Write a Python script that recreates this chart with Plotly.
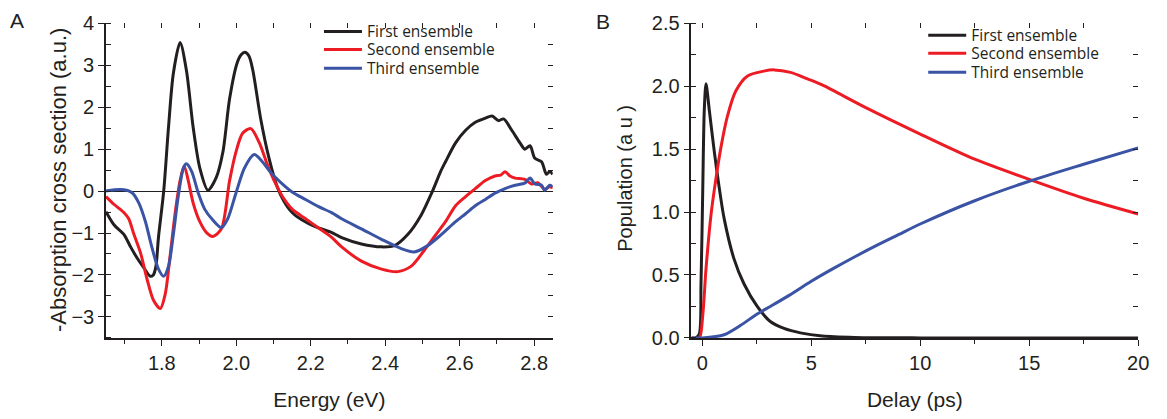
import plotly.graph_objects as go

# ---------------- Panel A data: -absorption cross section vs energy ----------------
energy_first = [1.65, 1.672, 1.698, 1.716, 1.734, 1.751, 1.769, 1.777, 1.784, 1.791, 1.805, 1.818,
                1.831, 1.849, 1.866, 1.884, 1.902, 1.924, 1.946, 1.964, 1.982, 2.002, 2.013, 2.023,
                2.034, 2.044, 2.066, 2.088, 2.110, 2.128, 2.150, 2.177, 2.212, 2.257, 2.283, 2.336,
                2.390, 2.425, 2.461, 2.496, 2.527, 2.549, 2.562, 2.589, 2.616, 2.642, 2.669, 2.687,
                2.704, 2.718, 2.740, 2.762, 2.775, 2.789, 2.802, 2.820, 2.833, 2.842, 2.85]
first_A = [-0.49, -0.81, -1.03, -1.33, -1.60, -1.82, -2.03, -2.00, -1.80, -1.10, 0.0, 1.53,
           2.81, 3.54, 2.88, 1.53, 0.55, 0.02, 0.32, 0.93, 2.20, 3.05, 3.25, 3.31,
           3.22, 2.90, 1.70, 0.78, 0.10, -0.24, -0.51, -0.69, -0.85, -0.99, -1.11, -1.26,
           -1.33, -1.30, -1.03, -0.58, 0.0, 0.47, 0.70, 1.15, 1.45, 1.64, 1.74, 1.79,
           1.68, 1.72, 1.45, 1.15, 1.00, 1.08, 0.78, 0.70, 0.40, 0.47, 0.40]

energy_second = [1.65, 1.672, 1.698, 1.711, 1.725, 1.743, 1.760, 1.778, 1.796, 1.809, 1.822, 1.836,
                 1.849, 1.860, 1.871, 1.884, 1.902, 1.920, 1.937, 1.960, 1.982, 1.999, 2.017, 2.039,
                 2.062, 2.084, 2.106, 2.124, 2.150, 2.186, 2.221, 2.257, 2.283, 2.336, 2.390, 2.434,
                 2.470, 2.505, 2.535, 2.562, 2.589, 2.616, 2.642, 2.669, 2.695, 2.710, 2.722, 2.735,
                 2.749, 2.775, 2.793, 2.810, 2.828, 2.840, 2.85]
second_A = [-0.13, -0.32, -0.51, -0.66, -1.03, -1.48, -2.09, -2.61, -2.80, -2.46, -1.56, -0.51,
            0.25, 0.60, 0.25, -0.28, -0.73, -0.99, -1.08, -0.90, 0.25, 0.93, 1.38, 1.49,
            1.15, 0.62, 0.17, -0.13, -0.43, -0.66, -0.88, -1.11, -1.33, -1.67, -1.86, -1.92,
            -1.79, -1.41, -1.05, -0.73, -0.35, -0.13, 0.06, 0.25, 0.36, 0.38, 0.46, 0.36,
            0.31, 0.28, 0.17, 0.20, 0.04, 0.10, 0.08]

energy_third = [1.65, 1.672, 1.698, 1.720, 1.738, 1.756, 1.773, 1.791, 1.805, 1.818, 1.831, 1.844,
                1.858, 1.866, 1.880, 1.898, 1.915, 1.937, 1.960, 1.977, 1.999, 2.022, 2.048, 2.070,
                2.093, 2.119, 2.150, 2.186, 2.221, 2.257, 2.283, 2.336, 2.390, 2.443, 2.478, 2.514,
                2.549, 2.589, 2.616, 2.642, 2.669, 2.695, 2.722, 2.749, 2.775, 2.789, 2.802, 2.820,
                2.828, 2.842, 2.85]
third_A = [0.0, 0.03, 0.03, -0.04, -0.28, -0.73, -1.33, -1.86, -2.03, -1.79, -1.03, -0.13,
           0.55, 0.65, 0.47, -0.05, -0.43, -0.69, -0.87, -0.66, -0.05, 0.55, 0.87, 0.70,
           0.44, 0.21, -0.02, -0.20, -0.37, -0.52, -0.66, -0.90, -1.15, -1.37, -1.45, -1.30,
           -1.05, -0.73, -0.54, -0.35, -0.20, -0.05, 0.06, 0.14, 0.19, 0.31, 0.17, 0.14,
           0.02, 0.14, 0.10]

# ---------------- Panel B data: population vs delay ----------------
delay_first = [-0.5, -0.3, -0.14, -0.06, 0.02, 0.09, 0.17, 0.32, 0.55, 0.77, 1.0, 1.45,
               1.91, 2.52, 3.12, 3.75, 4.5, 5.5, 7.0, 10.0, 15.0, 20.0]
first_B = [0.0, 0.0, 0.03, 0.43, 1.18, 1.81, 2.02, 1.81, 1.48, 1.20, 0.95, 0.63,
           0.43, 0.25, 0.13, 0.075, 0.04, 0.015, 0.004, 0.0, 0.0, 0.0]

delay_second = [-0.5, -0.14, 0.02, 0.17, 0.40, 0.62, 0.85, 1.15, 1.53, 2.06, 2.82, 3.3,
                4.05, 4.8, 5.5, 7.5, 10.0, 12.5, 15.0, 17.5, 20.0]
second_B = [0.0, 0.0, 0.18, 0.55, 0.98, 1.26, 1.51, 1.76, 1.96, 2.08, 2.12, 2.13,
            2.11, 2.06, 2.01, 1.83, 1.62, 1.42, 1.26, 1.11, 0.985]

delay_third = [-0.5, 0.0, 1.0, 1.76, 2.52, 3.12, 4.0, 5.0, 6.0, 7.0, 8.0, 9.0,
               10.0, 12.5, 15.0, 17.5, 20.0]
third_B = [0.0, 0.0, 0.025, 0.10, 0.19, 0.25, 0.34, 0.45, 0.55, 0.645, 0.735, 0.82,
           0.905, 1.09, 1.245, 1.38, 1.51]

names = ["First ensemble", "Second ensemble", "Third ensemble"]
BLACK, RED, BLUE = "#231f20", "#ed1c24", "#3a53a4"
colors = [BLACK, RED, BLUE]

W, H = 1167, 419
def px_x(p): return p / W
def px_y(p): return 1 - p / H

INK = "#231f20"
SANS = "Liberation Sans, Arial, sans-serif"
AX_FONT = dict(family=SANS, size=20, color=INK)
TITLE_FONT = dict(family=SANS, size=21, color=INK)
LEG_FONT = dict(family="Open Sans, sans-serif", size=15.5, color=INK)

# legend rows (one native legend per entry, so rows can be spaced like the original)
legA_rows = [31, 50, 70]
legB_rows = [35, 54, 74]
legA_text_x, legB_text_x = 363, 973
ITEMW = 38

fig = go.Figure()
for i, (xs, ys, c, n) in enumerate(zip([energy_first, energy_second, energy_third],
                                       [first_A, second_A, third_A], colors, names)):
    fig.add_trace(go.Scatter(x=xs, y=ys, mode="lines", name=n,
                             line=dict(color=c, width=3, shape="spline", smoothing=0.8),
                             xaxis="x", yaxis="y", legend="legend" if i == 0 else f"legend{i + 1}"))
for i, (xs, ys, c, n) in enumerate(zip([delay_first, delay_second, delay_third],
                                       [first_B, second_B, third_B], colors, names)):
    fig.add_trace(go.Scatter(x=xs, y=ys, mode="lines", name=n,
                             line=dict(color=c, width=3, shape="spline", smoothing=0.8),
                             xaxis="x2", yaxis="y2", legend=f"legend{i + 4}"))
# empty traces to hold the mirrored (inside-tick) frame axes
fig.add_trace(go.Scatter(x=[], y=[], xaxis="x3", yaxis="y3", showlegend=False, hoverinfo="skip"))
fig.add_trace(go.Scatter(x=[], y=[], xaxis="x4", yaxis="y4", showlegend=False, hoverinfo="skip"))

dom_xA = [px_x(107), px_x(558)]
dom_xB = [px_x(698), px_x(1149)]
dom_y = [px_y(345), px_y(13)]
rangeA_x = [1.65, 2.85]
rangeA_y = [-3.5, 4]
rangeB_x = [-0.5, 20]
rangeB_y = [0, 2.5]

base = dict(showgrid=False, showline=True, linecolor=INK, linewidth=1.5,
            ticks="outside", ticklen=6, tickwidth=1.3, tickcolor=INK,
            tickfont=AX_FONT, title_font=TITLE_FONT)
mirror = dict(showgrid=False, showline=False, zeroline=False, showticklabels=False,
              ticks="inside", ticklen=5, tickwidth=1.3, tickcolor=INK)

def leg(xpx, ypx):
    return dict(x=px_x(xpx - 33 - (ITEMW - 30)), y=px_y(ypx - 9), xanchor="left",
                yanchor="middle", bgcolor="rgba(0,0,0,0)", borderwidth=0,
                font=LEG_FONT, itemwidth=ITEMW)

layout_legends = {}
for i, r in enumerate(legA_rows):
    layout_legends["legend" if i == 0 else f"legend{i + 1}"] = leg(legA_text_x, r)
for i, r in enumerate(legB_rows):
    layout_legends[f"legend{i + 4}"] = leg(legB_text_x, r)

fig.update_layout(
    width=W, height=H, margin=dict(l=0, r=0, t=0, b=0), autosize=False,
    plot_bgcolor="white", paper_bgcolor="white", showlegend=True,
    xaxis=dict(base, domain=dom_xA, range=rangeA_x, anchor="y", tick0=1.8, dtick=0.2,
               tickformat=".1f", zeroline=False,
               minor=dict(tick0=1.7, dtick=0.1, ticks="outside", ticklen=4, tickcolor=INK),
               title=dict(text="Energy (eV)", standoff=20)),
    yaxis=dict(base, domain=dom_y, range=rangeA_y, anchor="x", dtick=1,
               zeroline=True, zerolinecolor=INK, zerolinewidth=1.2,
               minor=dict(dtick=0.5, ticks="inside", ticklen=5, tickcolor=INK)),
    xaxis3=dict(mirror, overlaying="x", side="top", anchor="y3", range=rangeA_x,
                tick0=1.7, dtick=0.1),
    yaxis3=dict(mirror, overlaying="y", side="right", anchor="x3", range=rangeA_y,
                dtick=0.5),
    xaxis2=dict(base, domain=dom_xB, range=rangeB_x, anchor="y2", tick0=0, dtick=5,
                zeroline=False,
                minor=dict(dtick=2.5, ticks="outside", ticklen=4, tickcolor=INK),
                title=dict(text="Delay (ps)", standoff=20)),
    yaxis2=dict(base, domain=dom_y, range=rangeB_y, anchor="x2", dtick=0.5,
                tickformat=".1f", zeroline=False,
                minor=dict(dtick=0.25, ticks="inside", ticklen=5, tickcolor=INK)),
    xaxis4=dict(mirror, overlaying="x2", side="top", anchor="y4", range=rangeB_x,
                tick0=0, dtick=2.5),
    yaxis4=dict(mirror, overlaying="y2", side="right", anchor="x4", range=rangeB_y,
                dtick=0.25),
    annotations=[
        dict(text="-Absorption cross section (a.u.)", textangle=-90, x=px_x(59), y=px_y(178),
             xref="paper", yref="paper", xanchor="center", yanchor="middle", showarrow=False,
             font=dict(family=SANS, size=22, color=INK)),
        dict(text="Population (a u )", textangle=-90, x=px_x(631), y=px_y(177),
             xref="paper", yref="paper", xanchor="center", yanchor="middle", showarrow=False,
             font=dict(family=SANS, size=20, color=INK)),
        dict(text="A", x=px_x(17.5), y=px_y(10.5), xref="paper", yref="paper",
             xanchor="center", yanchor="middle", showarrow=False,
             font=dict(family=SANS, size=21, color=INK)),
        dict(text="B", x=px_x(609), y=px_y(11.5), xref="paper", yref="paper",
             xanchor="center", yanchor="middle", showarrow=False,
             font=dict(family=SANS, size=21, color=INK)),
    ],
    **layout_legends,
)

fig.write_html("out.html")
